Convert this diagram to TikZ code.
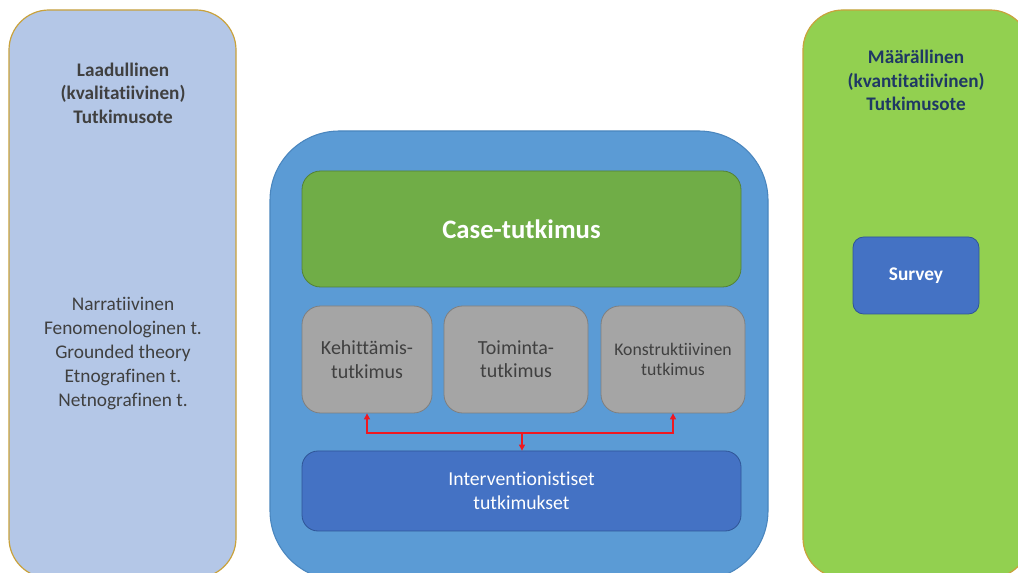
\documentclass[tikz,border=0pt]{standalone}
\usepackage{fontspec}
\setmainfont{Carlito}[Ligatures=NoCommon]
\usetikzlibrary{arrows.meta}
\definecolor{lightblue}{HTML}{B4C7E7}
\definecolor{goldborder}{HTML}{C9A23C}
\definecolor{brightgreen}{HTML}{92D050}
\definecolor{midblue}{HTML}{5B9BD5}
\definecolor{midblueborder}{HTML}{4A86BE}
\definecolor{casegreen}{HTML}{70AD47}
\definecolor{casegreenborder}{HTML}{538135}
\definecolor{boxgray}{HTML}{A5A5A5}
\definecolor{boxgrayborder}{HTML}{7F7F7F}
\definecolor{deepblue}{HTML}{4472C4}
\definecolor{deepblueborder}{HTML}{2F5597}
\definecolor{darktext}{HTML}{404040}
\definecolor{navytext}{HTML}{1F3864}
\definecolor{arrowred}{HTML}{F01820}
\tikzset{
  outerbox/.style={draw=goldborder, line width=0.9pt, rounded corners=30pt},
  grayrect/.style={draw=boxgrayborder, fill=boxgray, line width=0.6pt, rounded corners=14pt},
  darkrect/.style={draw=deepblueborder, fill=deepblue, line width=0.6pt},
  redline/.style={draw=arrowred, line width=0.8pt},
  redtip/.style={-{Triangle[length=4.5pt,width=4.5pt]}},
  plaintxt/.style={align=center, font=\fontsize{14.5}{18}\selectfont, text=darktext},
}
\begin{document}
\begin{tikzpicture}[x=0.75pt,y=-0.75pt]
\useasboundingbox (0,0) rectangle (1018,573);
\clip (0,0) rectangle (1018,573);
\fill[white] (0,0) rectangle (1018,573);
% left outer box
\path[outerbox, fill=lightblue] (9,10) rectangle (236,578);
\node[plaintxt, font=\bfseries\fontsize{14.4}{17.6}\selectfont] (lefttitle) at (123,93) {Laadullinen\\(kvalitatiivinen)\\Tutkimusote};
\node[plaintxt] (leftlist) at (123,354) {Narratiivinen\\Fenomenologinen t.\\Grounded theory\\Etnografinen t.\\Netnografinen t.};
% right outer box
\path[outerbox, fill=brightgreen] (803,10) rectangle (1030,578);
\node[plaintxt, text=navytext, font=\bfseries\fontsize{14.4}{17.6}\selectfont] (righttitle) at (916,80.5) {Määrällinen\\(kvantitatiivinen)\\Tutkimusote};
\node[darkrect, rounded corners=8pt, minimum width=126*0.75pt, minimum height=77*0.75pt, text=white, font=\bfseries\fontsize{14.5}{16}\selectfont] (survey) at (916,275.5) {Survey};
% center box
\path[draw=midblueborder, fill=midblue, line width=0.8pt, rounded corners=52pt] (270,131) rectangle (768,580);
\node[draw=casegreenborder, fill=casegreen, line width=0.6pt, rounded corners=14pt, minimum width=439*0.75pt, minimum height=116*0.75pt, text=white, font=\bfseries\fontsize{20}{24}\selectfont] (case) at (521.5,229) {Case-tutkimus};
\node[grayrect, minimum width=130*0.75pt, minimum height=107*0.75pt] (keh) at (367,359.5) {};
\node[plaintxt, font=\fontsize{15}{17.5}\selectfont] at (keh.center) {Kehittämis-\\tutkimus};
\node[grayrect, minimum width=144*0.75pt, minimum height=107*0.75pt] (toim) at (516,359.5) {};
\node[plaintxt, font=\fontsize{15}{17.5}\selectfont] at (toim.center) {Toiminta-\\tutkimus};
\node[grayrect, minimum width=144*0.75pt, minimum height=107*0.75pt] (kons) at (673,359.5) {};
\node[plaintxt, font=\fontsize{13.3}{15.5}\selectfont] at (kons.center) {Konstruktiivinen\\tutkimus};
\node[darkrect, rounded corners=12pt, minimum width=439*0.75pt, minimum height=80*0.75pt] (interv) at (521.5,491) {};
\node[plaintxt, font=\fontsize{14.8}{18}\selectfont, text=white] at (interv.center) {Interventionistiset\\tutkimukset};
% red connectors
\coordinate (junction) at (522,433);
\draw[redline, redtip] (junction) -| (keh.south);
\draw[redline, redtip] (junction) -| (kons.south);
\draw[redline, redtip] (junction) -- (interv.north -| junction);
\end{tikzpicture}
\end{document}
